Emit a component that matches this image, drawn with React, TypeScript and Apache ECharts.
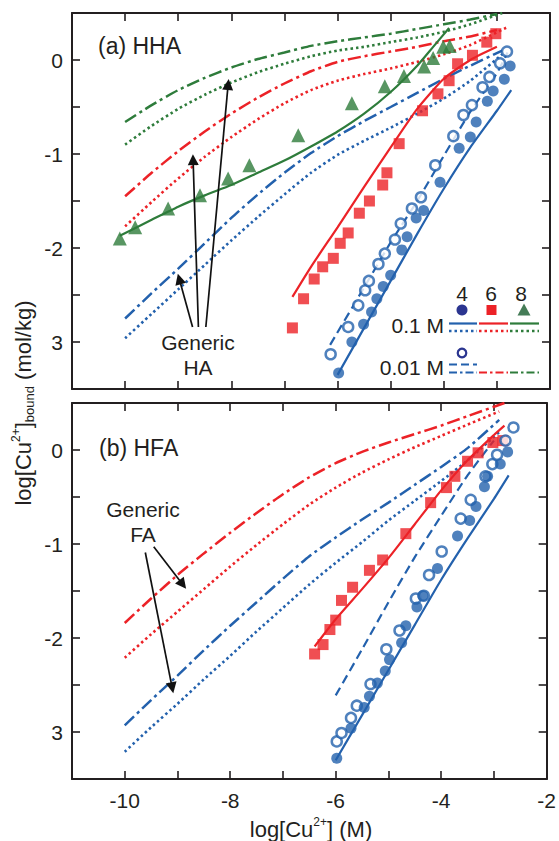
import React, { useEffect, useRef } from 'react';
import * as echarts from 'echarts';

// ---------- axes ----------
const X_MIN = -11;
const X_MAX = -2;
const X_STEP = 1;
const Y_MIN = -3.5;
const Y_MAX = 0.5;
const Y_STEP = 0.5;
const xTickValues = [-10, -8, -6, -4, -2];
const xTickLabels = ['-10', '-8', '-6', '-4', '-2'];
const yTickValues = [0, -1, -2, -3];
const yTickLabels = ['0', '-1', '-2', '3'];

// ---------- panel (a) HHA : generic HA predictions ----------
const hhaGenPh4Low = [[-10,-2.75],[-9.5,-2.48],[-9,-2.22],[-8.5,-1.95],[-8,-1.68],[-7.5,-1.43],[-7,-1.2],[-6.5,-0.99],[-6,-0.81],[-5.5,-0.65],[-5,-0.5],[-4.5,-0.35],[-4,-0.2],[-3.5,-0.06],[-2.9,0.1]];
const hhaGenPh4High = [[-10,-2.96],[-9.5,-2.7],[-9,-2.44],[-8.5,-2.18],[-8,-1.92],[-7.5,-1.67],[-7,-1.43],[-6.5,-1.2],[-6,-1.01],[-5.5,-0.86],[-5,-0.72],[-4.5,-0.57],[-4,-0.41],[-3.5,-0.22],[-2.9,0.06]];
const hhaGenPh6Low = [[-10,-1.45],[-9.5,-1.2],[-9,-0.97],[-8.5,-0.76],[-8,-0.57],[-7.5,-0.4],[-7,-0.25],[-6.5,-0.12],[-6,-0.02],[-5.5,0.04],[-5,0.09],[-4.5,0.14],[-4,0.2],[-3.5,0.25],[-3,0.32]];
const hhaGenPh6High = [[-10,-1.77],[-9.5,-1.51],[-9,-1.26],[-8.5,-1.03],[-8,-0.82],[-7.5,-0.63],[-7,-0.46],[-6.5,-0.32],[-6,-0.22],[-5.5,-0.15],[-5,-0.09],[-4.5,-0.02],[-4,0.06],[-3.5,0.16],[-2.8,0.35]];
const hhaGenPh8Low = [[-10,-0.66],[-9.5,-0.48],[-9,-0.32],[-8.5,-0.19],[-8,-0.08],[-7.5,0.01],[-7,0.08],[-6.5,0.15],[-6,0.2],[-5.5,0.24],[-5,0.28],[-4.5,0.33],[-4,0.38],[-3.5,0.43],[-3,0.49]];
const hhaGenPh8High = [[-10,-0.9],[-9.5,-0.7],[-9,-0.52],[-8.5,-0.37],[-8,-0.24],[-7.5,-0.13],[-7,-0.04],[-6.5,0.04],[-6,0.1],[-5.5,0.14],[-5,0.19],[-4.5,0.24],[-4,0.3],[-3.5,0.38],[-2.9,0.5]];

// ---------- panel (a) HHA : fitted model ----------
const hhaFitPh4High = [[-6,-3.35],[-5.5,-2.85],[-5,-2.35],[-4.5,-1.85],[-4,-1.37],[-3.5,-0.93],[-3,-0.54],[-2.73,-0.32]];
const hhaFitPh4Low = [[-6.14,-3.03],[-5.5,-2.42],[-5,-1.94],[-4.5,-1.5],[-4,-1.02],[-3.5,-0.55],[-3,-0.14],[-2.8,0.08]];
const hhaFitPh6High = [[-6.85,-2.52],[-6.5,-2.2],[-6,-1.78],[-5.5,-1.35],[-5,-0.93],[-4.5,-0.52],[-4,-0.2],[-3.5,0.0],[-3,0.14]];
const hhaFitPh8High = [[-10.1,-1.87],[-9.5,-1.7],[-9,-1.56],[-8.5,-1.44],[-8,-1.33],[-7.5,-1.2],[-7,-1.07],[-6.5,-0.92],[-6,-0.76],[-5.5,-0.57],[-5,-0.34],[-4.5,-0.06],[-4.2,0.14],[-3.9,0.34]];

// ---------- panel (a) HHA : measurements ----------
const hhaPh8High = [[-10.1,-1.9],[-9.81,-1.78],[-9.19,-1.58],[-8.59,-1.44],[-8.06,-1.26],[-7.66,-1.12],[-6.74,-0.8],[-5.73,-0.46],[-5.11,-0.28],[-4.75,-0.17],[-4.37,-0.07],[-4.2,0.02],[-4.01,0.14],[-3.89,0.15]];
const hhaPh6High = [[-6.85,-2.85],[-6.64,-2.54],[-6.44,-2.33],[-6.28,-2.2],[-6.08,-2.11],[-5.95,-1.95],[-5.8,-1.84],[-5.59,-1.63],[-5.4,-1.5],[-5.15,-1.33],[-5.07,-1.2],[-4.84,-0.89],[-4.4,-0.54],[-4.11,-0.36],[-3.9,-0.22],[-3.74,-0.04],[-3.46,0.05],[-3.19,0.19],[-3.02,0.28]];
const hhaPh4Low = [[-6.13,-3.13],[-5.8,-2.84],[-5.61,-2.61],[-5.48,-2.45],[-5.41,-2.35],[-5.23,-2.17],[-5.11,-2.06],[-4.92,-1.91],[-4.81,-1.74],[-4.6,-1.58],[-4.43,-1.46],[-4.16,-1.12],[-3.82,-0.81],[-3.63,-0.585],[-3.47,-0.48],[-3.27,-0.29],[-3.14,-0.18],[-2.94,-0.035],[-2.81,0.09]];
const hhaPh4High = [[-5.98,-3.33],[-5.73,-3.0],[-5.51,-2.81],[-5.36,-2.68],[-5.26,-2.54],[-5.14,-2.41],[-5.0,-2.29],[-4.79,-2.02],[-4.69,-1.88],[-4.52,-1.68],[-4.38,-1.6],[-4.07,-1.3],[-3.71,-0.94],[-3.5,-0.82],[-3.39,-0.66],[-3.18,-0.44],[-3.07,-0.33],[-2.86,-0.205],[-2.75,-0.064]];

// ---------- panel (b) HFA : generic FA predictions ----------
const hfaGenPh6Low = [[-10,-1.84],[-9.5,-1.58],[-9,-1.33],[-8.5,-1.1],[-8,-0.88],[-7.5,-0.67],[-7,-0.47],[-6.5,-0.29],[-6,-0.14],[-5.5,-0.02],[-5,0.08],[-4.5,0.17],[-4,0.26],[-3.5,0.36],[-2.8,0.5]];
const hfaGenPh6High = [[-10,-2.21],[-9.5,-1.96],[-9,-1.72],[-8.5,-1.48],[-8,-1.24],[-7.5,-1.01],[-7,-0.79],[-6.5,-0.58],[-6,-0.4],[-5.5,-0.24],[-5,-0.1],[-4.5,0.03],[-4,0.15],[-3.5,0.27],[-2.9,0.41]];
const hfaGenPh4Low = [[-10,-2.93],[-9.5,-2.66],[-9,-2.4],[-8.5,-2.13],[-8,-1.87],[-7.5,-1.62],[-7,-1.37],[-6.5,-1.13],[-6,-0.93],[-5.5,-0.74],[-5,-0.56],[-4.5,-0.37],[-4,-0.18],[-3.5,0.02],[-2.9,0.32]];
const hfaGenPh4High = [[-10,-3.21],[-9.5,-2.95],[-9,-2.7],[-8.5,-2.44],[-8,-2.19],[-7.5,-1.93],[-7,-1.68],[-6.5,-1.43],[-6,-1.2],[-5.5,-0.98],[-5,-0.75],[-4.5,-0.54],[-4,-0.33],[-3.5,-0.11],[-2.9,0.19]];

// ---------- panel (b) HFA : fitted model ----------
const hfaFitPh6High = [[-6.4,-2.09],[-6,-1.8],[-5.5,-1.48],[-5,-1.15],[-4.5,-0.79],[-4,-0.43],[-3.5,-0.11],[-3,0.16],[-2.8,0.26]];
const hfaFitPh4Low = [[-6,-2.61],[-5.5,-2.12],[-5,-1.62],[-4.5,-1.14],[-4,-0.7],[-3.5,-0.27],[-3,0.1]];
const hfaFitPh4High = [[-6,-3.3],[-5.5,-2.82],[-5,-2.34],[-4.5,-1.86],[-4,-1.38],[-3.5,-0.94],[-3,-0.52],[-2.72,-0.27]];

// ---------- panel (b) HFA : measurements ----------
const hfaPh6High = [[-6.4,-2.17],[-6.24,-2.07],[-6.11,-1.91],[-6.0,-1.81],[-5.89,-1.6],[-5.68,-1.46],[-5.36,-1.28],[-5.11,-1.17],[-4.67,-0.89],[-4.2,-0.56],[-3.9,-0.4],[-3.74,-0.28],[-3.5,-0.12],[-3.3,-0.03],[-3.02,0.08],[-2.83,0.1]];
const hfaPh4Low = [[-5.98,-3.1],[-5.89,-3.01],[-5.71,-2.85],[-5.6,-2.72],[-5.34,-2.49],[-5.04,-2.12],[-4.79,-1.92],[-4.48,-1.58],[-4.33,-1.55],[-4.23,-1.33],[-3.99,-1.08],[-3.63,-0.73],[-3.44,-0.53],[-3.16,-0.28],[-3.03,-0.15],[-2.94,-0.05],[-2.78,0.1],[-2.63,0.24]];
const hfaPh4High = [[-5.98,-3.28],[-5.71,-2.96],[-5.46,-2.74],[-5.36,-2.62],[-5.21,-2.48],[-5.06,-2.35],[-4.98,-2.23],[-4.75,-2.05],[-4.67,-1.87],[-4.46,-1.67],[-4.35,-1.55],[-4.07,-1.26],[-3.69,-0.915],[-3.46,-0.75],[-3.34,-0.6],[-3.18,-0.39],[-3.12,-0.28],[-2.88,-0.15],[-2.74,-0.02]];

// ---------- annotation arrows (data coordinates: tail, tip) ----------
const hhaArrows = [
  [[-8.73,-2.84],[-8.98,-2.33]],
  [[-8.62,-2.84],[-8.72,-1.06]],
  [[-8.48,-2.84],[-8.06,-0.26]],
];
const hfaArrows = [
  [[-9.45,-1.03],[-8.9,-1.43]],
  [[-9.61,-1.09],[-9.1,-2.53]],
];

// ---------- styles ----------
const BLUE = '#2361ad';
const RED = '#ec2227';
const GREEN = '#2e7c3b';
const NAVY = '#2b3590';
const LEGEND_GREEN = '#457c57';
const INK = '#231f20';
const FONT = '"Liberation Sans", Arial, Helvetica, sans-serif';
const DASHDOT = [13, 4, 3, 4];
const DOTTED = [2.5, 3];
const DASHED = [9, 5];

function xAxis(grid: number, position: string, labels: boolean) {
  return {
    type: 'value', gridIndex: grid, position, min: X_MIN, max: X_MAX, interval: X_STEP,
    axisLine: { show: true, onZero: false, lineStyle: { color: INK, width: 2 } },
    axisTick: { show: true, inside: true, length: 8, lineStyle: { color: INK, width: 1.6 } },
    axisLabel: {
      show: labels, margin: 11, fontSize: 21, color: INK, fontFamily: FONT,
      showMinLabel: true, showMaxLabel: true,
      formatter: (v: number) => {
        const i = xTickValues.indexOf(Math.round(v * 1000) / 1000);
        return i >= 0 ? xTickLabels[i] : '';
      },
    },
    splitLine: { show: false },
  };
}
function yAxis(grid: number, position: string, labels: boolean) {
  return {
    type: 'value', gridIndex: grid, position, min: Y_MIN, max: Y_MAX, interval: Y_STEP,
    axisLine: { show: true, onZero: false, lineStyle: { color: INK, width: 2 } },
    axisTick: { show: true, inside: true, length: 8, lineStyle: { color: INK, width: 1.6 } },
    axisLabel: {
      show: labels, margin: 9, fontSize: 21, color: INK, fontFamily: FONT,
      formatter: (v: number) => {
        const i = yTickValues.indexOf(Math.round(v * 1000) / 1000);
        return i >= 0 ? yTickLabels[i] : '';
      },
    },
    splitLine: { show: false },
  };
}

function curve(data: number[][], color: string, dash: any, panel: number, width = 2) {
  return {
    type: 'line', data, xAxisIndex: panel * 2, yAxisIndex: panel * 2,
    showSymbol: false, symbol: 'none', smooth: 0.2, silent: true, z: 2,
    lineStyle: { color, width, type: dash },
  };
}
function points(data: number[][], symbol: string, size: number, panel: number, item: any) {
  return {
    type: 'scatter', data, xAxisIndex: panel * 2, yAxisIndex: panel * 2,
    symbol, symbolSize: size, silent: true, z: 4, itemStyle: item,
  };
}
function arrows(list: number[][][], panel: number) {
  return {
    type: 'lines', coordinateSystem: 'cartesian2d', xAxisIndex: panel * 2, yAxisIndex: panel * 2,
    symbol: ['none', 'triangle'], symbolSize: 11, silent: true, z: 6,
    lineStyle: { color: '#111', width: 1.7, opacity: 1, curveness: 0 },
    data: list.map((c) => ({ coords: c })),
  };
}

const txt = (text: string, x: number, y: number, size: number, align = 'left', extra: any = {}) => ({
  type: 'text', x, y, z: 20, silent: true,
  style: { text, fontSize: size, fontFamily: FONT, fill: INK, align, verticalAlign: 'middle', ...extra },
});
const seg = (x1: number, x2: number, y: number, color: string, dash: any, w = 2.2) => ({
  type: 'line', z: 20, silent: true,
  shape: { x1, y1: y, x2, y2: y },
  style: { stroke: color, lineWidth: w, lineDash: dash },
});

const graphics = [
  txt('(a) HHA', 98, 46, 23),
  txt('(b) HFA', 99, 448, 23),
  txt('Generic\nHA', 198, 355, 21, 'center', { lineHeight: 25 }),
  txt('Generic\nFA', 143, 522, 21, 'center', { lineHeight: 25 }),
  // legend
  txt('4', 462, 293, 21, 'center'),
  txt('6', 491, 293, 21, 'center'),
  txt('8', 521, 293, 21, 'center'),
  { type: 'circle', z: 20, silent: true, shape: { cx: 462, cy: 310, r: 5.5 }, style: { fill: NAVY } },
  { type: 'rect', z: 20, silent: true, shape: { x: 486.5, y: 305, width: 10, height: 10 }, style: { fill: RED } },
  { type: 'polygon', z: 20, silent: true, shape: { points: [[524, 303.5], [530.5, 315.5], [517.5, 315.5]] }, style: { fill: LEGEND_GREEN } },
  txt('0.1 M', 444, 325, 21, 'right'),
  seg(449, 477, 323.5, BLUE, null),
  seg(479, 508, 323.5, RED, null),
  seg(510, 539, 323.5, GREEN, null),
  seg(449, 477, 331, BLUE, DOTTED, 2.5),
  seg(479, 508, 331, RED, DOTTED, 2.5),
  seg(510, 539, 331, GREEN, DOTTED, 2.5),
  txt('0.01 M', 444, 367, 21, 'right'),
  { type: 'circle', z: 20, silent: true, shape: { cx: 462, cy: 353, r: 4.3 }, style: { fill: '#fff', stroke: NAVY, lineWidth: 2.2 } },
  seg(449, 477, 364.5, BLUE, [8, 4]),
  seg(449, 477, 372.5, BLUE, [8, 3, 2.5, 3]),
  seg(479, 508, 372.5, RED, [8, 3, 2.5, 3]),
  seg(510, 539, 372.5, GREEN, [8, 3, 2.5, 3]),
  // axis titles
  {
    type: 'text', x: 311, y: 829, z: 20, silent: true,
    style: {
      text: '{n|log[Cu}{s|2+}{n|] (M)}', fill: INK, align: 'center', verticalAlign: 'middle',
      rich: {
        n: { fontSize: 22, fontFamily: FONT, fill: INK, lineHeight: 26 },
        s: { fontSize: 12, fontFamily: FONT, fill: INK, lineHeight: 14, verticalAlign: 'top' },
      },
    },
  },
  {
    type: 'text', x: 23, y: 403, rotation: Math.PI / 2, z: 20, silent: true,
    style: {
      text: '{n|log[Cu}{s|2+}{n|]}{b|bound}{n| (mol/kg)}', fill: INK, align: 'center', verticalAlign: 'middle',
      rich: {
        n: { fontSize: 22, fontFamily: FONT, fill: INK, lineHeight: 26 },
        s: { fontSize: 12, fontFamily: FONT, fill: INK, lineHeight: 14, verticalAlign: 'top' },
        b: { fontSize: 13, fontFamily: FONT, fill: INK, lineHeight: 12, verticalAlign: 'bottom' },
      },
    },
  },
];

const hollow = { color: '#ffffff', borderColor: BLUE, borderWidth: 2.5 };

const option: any = {
  animation: false,
  backgroundColor: '#ffffff',
  textStyle: { fontFamily: FONT },
  grid: [
    { left: 72, top: 13, width: 478, height: 376 },
    { left: 72, top: 403, width: 478, height: 376 },
  ],
  xAxis: [xAxis(0, 'bottom', false), xAxis(0, 'top', false), xAxis(1, 'bottom', true), xAxis(1, 'top', false)],
  yAxis: [yAxis(0, 'left', true), yAxis(0, 'right', false), yAxis(1, 'left', true), yAxis(1, 'right', false)],
  series: [
    // (a) generic
    curve(hhaGenPh8Low, GREEN, DASHDOT, 0, 2.5),
    curve(hhaGenPh8High, GREEN, DOTTED, 0, 2.6),
    curve(hhaGenPh6Low, RED, DASHDOT, 0, 2.5),
    curve(hhaGenPh6High, RED, DOTTED, 0, 2.6),
    curve(hhaGenPh4Low, BLUE, DASHDOT, 0, 2.5),
    curve(hhaGenPh4High, BLUE, DOTTED, 0, 2.6),
    // (a) fits
    curve(hhaFitPh4High, BLUE, 'solid', 0, 2.2),
    curve(hhaFitPh4Low, BLUE, DASHED, 0, 2.2),
    curve(hhaFitPh6High, RED, 'solid', 0, 2.2),
    curve(hhaFitPh8High, GREEN, 'solid', 0, 2.2),
    // (a) data
    points(hhaPh8High, 'triangle', 14, 0, { color: GREEN }),
    points(hhaPh6High, 'rect', 11, 0, { color: RED }),
    points(hhaPh4Low, 'circle', 10, 0, hollow),
    points(hhaPh4High, 'circle', 11, 0, { color: BLUE }),
    arrows(hhaArrows, 0),
    // (b) generic
    curve(hfaGenPh6Low, RED, DASHDOT, 1, 2.5),
    curve(hfaGenPh6High, RED, DOTTED, 1, 2.6),
    curve(hfaGenPh4Low, BLUE, DASHDOT, 1, 2.5),
    curve(hfaGenPh4High, BLUE, DOTTED, 1, 2.6),
    // (b) fits
    curve(hfaFitPh6High, RED, 'solid', 1, 2.2),
    curve(hfaFitPh4Low, BLUE, DASHED, 1, 2.2),
    curve(hfaFitPh4High, BLUE, 'solid', 1, 2.2),
    // (b) data
    points(hfaPh6High, 'rect', 11, 1, { color: RED }),
    points(hfaPh4Low, 'circle', 10, 1, hollow),
    points(hfaPh4High, 'circle', 11, 1, { color: BLUE }),
    arrows(hfaArrows, 1),
  ],
  graphic: graphics,
};

export default function App() {
  const ref = useRef<HTMLDivElement>(null);
  useEffect(() => {
    document.body.style.margin = '0';
    const chart = echarts.init(ref.current as HTMLDivElement, null, { renderer: 'svg' });
    chart.setOption(option);
    return () => chart.dispose();
  }, []);
  return <div ref={ref} style={{ width: 559, height: 841 }} />;
}
